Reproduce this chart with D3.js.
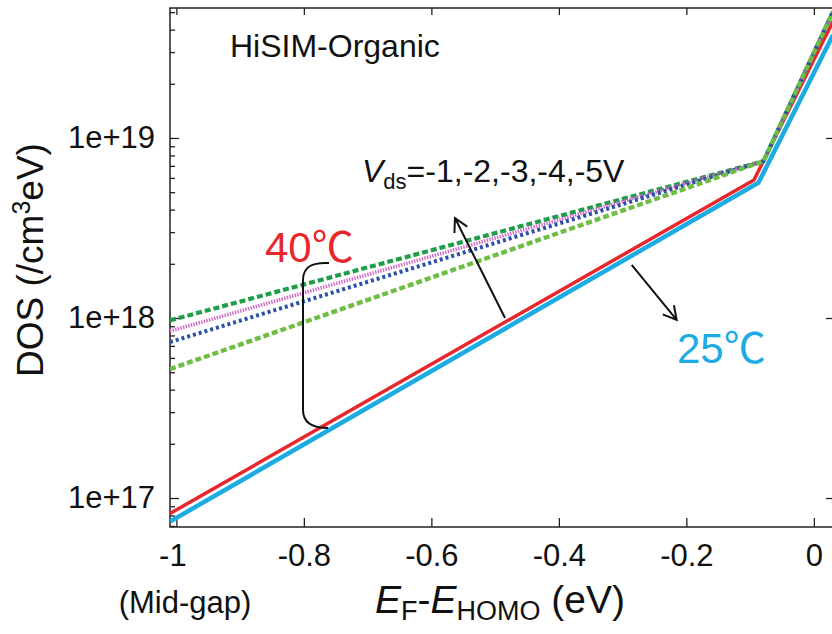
<!DOCTYPE html>
<html>
<head>
<meta charset="utf-8">
<script src="https://cdn.jsdelivr.net/npm/d3@7"></script>
<style>
  body { margin: 0; background: #fff; }
  svg { display: block; }
  text { font-family: "Liberation Sans", Arial, "Noto Sans CJK JP", sans-serif; fill: #111; }
</style>
</head>
<body>
<svg id="chart" width="832" height="634"></svg>
<script>
// Density of states vs. energy above the HOMO (log scale), HiSIM-Organic model
const energy25 = [-1.01, -0.087, 0.03];
const dos25    = [7.4e16, 5.64e18, 3.73e19];
const energy40 = [-1.01, -0.094, 0.03];
const dos40    = [8.2e16, 5.84e18, 4.44e19];
const energyVds = [-1.01, -0.079, 0.03];
const dosVds1 = [5.2e17, 7.43e18, 5.04e19];
const dosVds2 = [7.35e17, 7.43e18, 5.04e19];
const dosVds3 = [8.45e17, 7.43e18, 5.04e19];
const dosVds4 = [9.7e17, 7.43e18, 5.04e19];

const xTicks = [-1, -0.8, -0.6, -0.4, -0.2, 0];
const xTickLabels = ["-1", "-0.8", "-0.6", "-0.4", "-0.2", "0"];
const yTicks = [1e17, 1e18, 1e19];
const yTickLabels = ["1e+17", "1e+18", "1e+19"];
const minorMultipliers = [2, 3, 4, 5, 6, 7, 8, 9];

const svg = d3.select("#chart");
const L = 170, R = 833, T = 8, B = 527;

const x = d3.scaleLinear().domain([-1.01, 0.03]).range([L, R]);
const y = d3.scaleLog().domain([Math.pow(10, 16.839), Math.pow(10, 19.722)]).range([B, T]);

svg.append("defs").append("clipPath").attr("id", "plot")
  .append("rect").attr("x", L).attr("y", T).attr("width", R - L).attr("height", B - T);

// minor log ticks
const minorTicks = [];
[1e16, 1e17, 1e18, 1e19].forEach(d => minorMultipliers.forEach(m => {
  const v = d * m;
  if (v >= y.domain()[0] && v <= y.domain()[1]) minorTicks.push(v);
}));

const axisColor = "#222";
function styleAxis(g) {
  g.select(".domain").remove();
  g.selectAll("line").attr("stroke", axisColor).attr("stroke-width", 1.3);
}

svg.append("g").attr("transform", `translate(${L},0)`)
  .call(d3.axisLeft(y).tickValues(minorTicks).tickSize(-5).tickFormat(""))
  .call(styleAxis);
svg.append("g").attr("transform", `translate(${L},0)`)
  .call(d3.axisLeft(y).tickValues(yTicks).tickSize(-9).tickPadding(15)
    .tickFormat((d, i) => yTickLabels[i]))
  .call(styleAxis)
  .selectAll("text").attr("font-size", 31).attr("fill", "#111")
  .attr("font-family", '"Liberation Sans", Arial, sans-serif');
svg.append("g").attr("transform", `translate(${R},0)`)
  .call(d3.axisRight(y).tickValues(yTicks).tickSize(-7).tickFormat(""))
  .call(styleAxis);
const xAxisG = svg.append("g").attr("transform", `translate(0,${B})`)
  .call(d3.axisBottom(x).tickValues(xTicks).tickSize(-9).tickPadding(17)
    .tickFormat((d, i) => xTickLabels[i]))
  .call(styleAxis);
xAxisG.selectAll("text").attr("font-size", 31).attr("fill", "#111")
  .attr("font-family", '"Liberation Sans", Arial, sans-serif')
  .attr("dx", (d) => d === -1 ? -4 : 0);
svg.append("g").attr("transform", `translate(0,${T})`)
  .call(d3.axisTop(x).tickValues(xTicks).tickSize(-7).tickFormat(""))
  .call(styleAxis);

// frame
svg.append("rect").attr("x", L).attr("y", T).attr("width", R - L).attr("height", B - T)
  .attr("fill", "none").attr("stroke", axisColor).attr("stroke-width", 1.5);

// curves
const line = d3.line().x(d => x(d[0])).y(d => y(d[1]));
const series = [
  { e: energy25,  v: dos25,   color: "#1cabe3", width: 4.5, dash: null },
  { e: energy40,  v: dos40,   color: "#e8262c", width: 3.5, dash: null },
  { e: energyVds, v: dosVds4, color: "#1f9e4a", width: 4.2, dash: "6,3" },
  { e: energyVds, v: dosVds3, color: "#d266c6", width: 3.6, dash: "1.4,1.3" },
  { e: energyVds, v: dosVds2, color: "#2c4faa", width: 4,   dash: "3,3" },
  { e: energyVds, v: dosVds1, color: "#6dbe43", width: 4.4, dash: "6,3" }
];
const plot = svg.append("g").attr("clip-path", "url(#plot)");
series.forEach(s => {
  plot.append("path")
    .datum(s.e.map((e, i) => [e, s.v[i]]))
    .attr("d", line)
    .attr("fill", "none")
    .attr("stroke", s.color)
    .attr("stroke-width", s.width)
    .attr("stroke-dasharray", s.dash)
    .attr("stroke-linejoin", "round");
});

// annotation arrows (open heads)
function arrow(x1, y1, x2, y2) {
  const a = Math.atan2(y2 - y1, x2 - x1), len = 15, sp = 0.5;
  const p = d3.path();
  p.moveTo(x1, y1); p.lineTo(x2, y2);
  p.moveTo(x2 - len * Math.cos(a - sp), y2 - len * Math.sin(a - sp));
  p.lineTo(x2, y2);
  p.lineTo(x2 - len * Math.cos(a + sp), y2 - len * Math.sin(a + sp));
  svg.append("path").attr("d", p.toString()).attr("fill", "none")
    .attr("stroke", "#111").attr("stroke-width", 2);
}
arrow(x(-0.4845), y(1.0e18), x(-0.563), y(3.59e18));
arrow(x(-0.2858), y(1.97e18), x(-0.2152), y(9.75e17));

// bracket grouping the Vds curves with the 40 degC curve
svg.append("path")
  .attr("d", "M329,263 C312,262 303,267 303,280 L303,410 C303,423 312,428 328,428")
  .attr("fill", "none").attr("stroke", "#111").attr("stroke-width", 2);

// texts
svg.append("text").attr("x", 230).attr("y", 57).attr("font-size", 32).text("HiSIM-Organic");

const vds = svg.append("text").attr("x", 362).attr("y", 182).attr("font-size", 32);
vds.append("tspan").attr("font-style", "italic").text("V");
vds.append("tspan").attr("font-size", 22).attr("dy", 7).text("ds");
vds.append("tspan").attr("dy", -7).text("=-1,-2,-3,-4,-5V");

svg.append("text").attr("x", 265).attr("y", 262).attr("font-size", 42)
  .style("fill", "#e8262c").text("40℃");
svg.append("text").attr("x", 677).attr("y", 363).attr("font-size", 42)
  .style("fill", "#1cabe3").text("25℃");

svg.append("text").attr("x", 185).attr("y", 613).attr("font-size", 31)
  .attr("text-anchor", "middle").text("(Mid-gap)");

const xl = svg.append("text").attr("x", 500).attr("y", 613).attr("font-size", 39)
  .attr("text-anchor", "middle");
xl.append("tspan").attr("font-style", "italic").text("E");
xl.append("tspan").attr("font-size", 27).attr("dy", 7).text("F");
xl.append("tspan").attr("dy", -7).text("-");
xl.append("tspan").attr("font-style", "italic").text("E");
xl.append("tspan").attr("font-size", 27).attr("dy", 7).text("HOMO");
xl.append("tspan").attr("dy", -7).text(" (eV)");

const yl = svg.append("text").attr("transform", "translate(43,260) rotate(-90)")
  .attr("font-size", 37).attr("text-anchor", "middle");
yl.append("tspan").text("DOS (/cm");
yl.append("tspan").attr("font-size", 25).attr("dy", -13).text("3");
yl.append("tspan").attr("dy", 13).text("eV)");
</script>
</body>
</html>
